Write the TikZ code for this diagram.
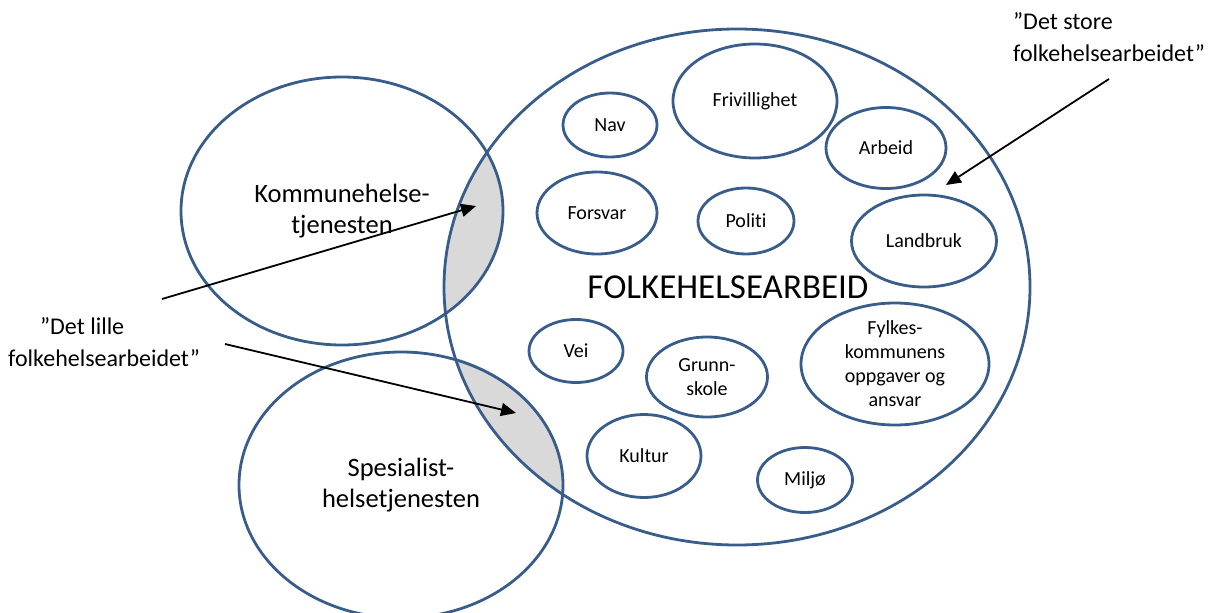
\documentclass[tikz,border=0pt]{standalone}
\usepackage{fontspec}
\setmainfont{Carlito}[Ligatures=NoCommon]
\usetikzlibrary{shapes.geometric,arrows.meta}
\definecolor{ellblue}{HTML}{385D8A}
\definecolor{lensgray}{HTML}{D9D9D9}
\begin{document}
\begin{tikzpicture}[x=1pt,y=-1pt,
  ell/.style={ellipse, draw=ellblue, line width=2.8pt, inner sep=0pt, align=center,
              font=\fontsize{20}{24}\selectfont},
  bigell/.style={ell, font=\fontsize{26.5}{31}\selectfont},
  title/.style={font=\fontsize{35}{40}\selectfont, inner sep=0pt},
  note/.style={align=left, inner sep=0pt, font=\fontsize{24}{32}\selectfont},
  arr/.style={line width=1.8pt, -{Triangle[length=15pt,width=13pt]}}]
\useasboundingbox (0,0) rectangle (1208,613);

% grey overlap lenses
\begin{scope}
  \clip (737,287) ellipse [x radius=293pt, y radius=258pt];
  \fill[lensgray] (342,209) ellipse [x radius=161pt, y radius=134pt];
  \fill[lensgray] (401,483) ellipse [x radius=162pt, y radius=133pt];
\end{scope}

% large ellipses
\node[ell, minimum width=586pt, minimum height=516pt] (folk) at (737,287) {};
\node[bigell, minimum width=322pt, minimum height=268pt] (kom) at (342,211) {Kommunehelse-\\tjenesten};
\node[bigell, minimum width=324pt, minimum height=266pt] (spes) at (401,485) {Spesialist-\\helsetjenesten};
\node[title] (folklabel) at (728,287) {FOLKEHELSEARBEID};

% small ellipses
\node[ell, minimum width=94pt,  minimum height=64pt]  (nav)    at (610,125) {Nav};
\node[ell, minimum width=164pt, minimum height=114pt] (friv)   at (755,101) {Frivillighet};
\node[ell, minimum width=120pt, minimum height=81pt]  (arbeid) at (886,148) {Arbeid};
\node[ell, minimum width=120pt, minimum height=82pt]  (forsv)  at (597,213) {Forsvar};
\node[ell, minimum width=96pt,  minimum height=66pt]  (politi) at (746,221) {Politi};
\node[ell, minimum width=145pt, minimum height=92pt]  (landb)  at (924,241) {Landbruk};
\node[ell, minimum width=94pt,  minimum height=63pt]  (vei)    at (576,351) {Vei};
\node[ell, minimum width=121pt, minimum height=80pt]  (grunn)  at (707,377) {Grunn-\\skole};
\node[ell, minimum width=188pt, minimum height=122pt] (fylke)  at (895,364) {Fylkes-\\kommunens\\oppgaver og\\ansvar};
\node[ell, minimum width=114pt, minimum height=83pt]  (kultur) at (644,456) {Kultur};
\node[ell, minimum width=95pt,  minimum height=65pt]  (miljo)  at (805,480) {Miljø};

% annotations
\node[note, anchor=north west] (lille) at (8,317) {\hspace*{32pt}”Det lille\\folkehelsearbeidet”};
\node[note, anchor=north west] (store) at (1013,12) {”Det store\\folkehelsearbeidet”};

% arrows
\coordinate (a1s) at (162,299);
\coordinate (a1e) at (476,206);
\coordinate (a2s) at (225,344);
\coordinate (a2e) at (516,413);
\coordinate (a3s) at (1109,79);
\coordinate (a3e) at (946,185);
\draw[arr] (a1s) -- (a1e);
\draw[arr] (a2s) -- (a2e);
\draw[arr] (a3s) -- (a3e);
\end{tikzpicture}
\end{document}
